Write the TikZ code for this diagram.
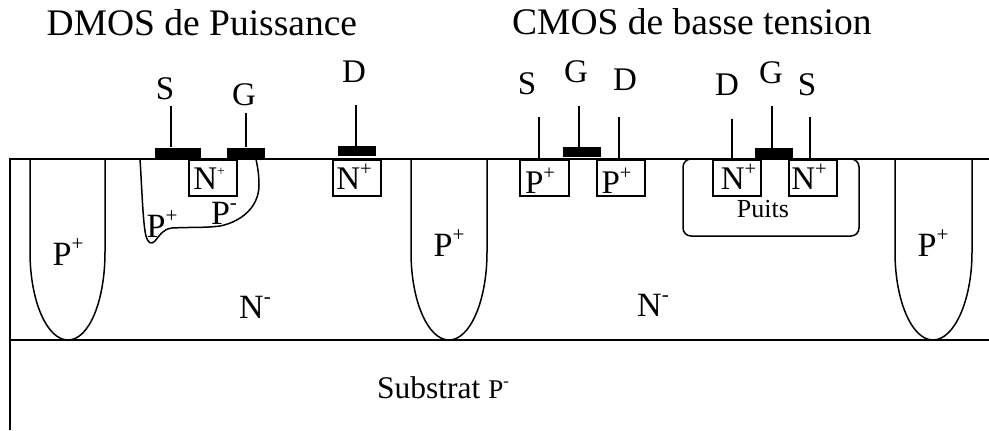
\documentclass[tikz,border=0pt]{standalone}
\usepackage{fontspec}
\setmainfont{Liberation Serif}
\newcommand{\fs}[1]{\fontsize{#1bp}{#1bp}\selectfont}
\newcommand{\sups}[2]{#1\raisebox{0.42em}{\fontsize{0.62em}{0.62em}\selectfont #2}}
\tikzset{
  x=1bp,y=-1bp,
  ln/.style={draw=black,line width=1.5bp},
  wire/.style={draw=black,line width=1.4bp},
  bar/.style={fill=black,draw=none,minimum width=#1 bp,minimum height=10bp,inner sep=0pt},
  dopebox/.style={ln,minimum width=48bp,minimum height=36bp,inner sep=0pt,anchor=north west},
  title/.style={font=\fs{37.5},anchor=base west,inner sep=0pt},
  term/.style={font=\fs{33},anchor=base,inner sep=0pt},
  lab/.style={font=\fs{34},anchor=base,inner sep=0pt},
  boxlab/.style={font=\fs{33},anchor=base,inner sep=0pt},
}
\begin{document}
\begin{tikzpicture}
\useasboundingbox (0,0) rectangle (989,430);
\coordinate (tl) at (10,159); \coordinate (tr) at (989,159);
\coordinate (ml) at (10,340); \coordinate (mr) at (989,340);
\coordinate (bl) at (10,430);
\draw[ln] (tr) -- (tl) -- (bl);
\draw[ln] (ml) -- (mr);
\draw[ln] (30,159) -- (30,252) .. controls (30,301) and (47,340) .. (68,340) .. controls (89,340) and (105,301) .. (105,252) -- (105,159);
\draw[ln] (411,159) -- (411,252) .. controls (411,301) and (428,340) .. (449,340) .. controls (470,340) and (487,301) .. (487,252) -- (487,159);
\draw[ln] (895,159) -- (895,252) .. controls (895,301) and (912,340) .. (933,340) .. controls (954,340) and (972,301) .. (972,252) -- (972,159);
\draw[ln] (140,159) .. controls (142,190) and (143,225) .. (146,236) .. controls (148,243) and (151,245) .. (155,241) .. controls (160,235) and (163,229) .. (172,228) .. controls (190,227) and (205,228) .. (220,226) .. controls (240,222) and (259,208) .. (259,185) .. controls (259,172) and (257,165) .. (256,159);
\draw[ln,rounded corners=8bp] (683,159) rectangle (859,236);
\node[dopebox] (nd1) at (188,159) {};
\node[dopebox] (nd2) at (332,159) {};
\node[dopebox,minimum width=49bp] (pc1) at (519,159) {};
\node[dopebox] (pc2) at (596,159) {};
\node[dopebox] (nc1) at (712,159) {};
\node[dopebox] (nc2) at (788,159) {};
\node[boxlab] (ln1) at (209,189) {\sups{N}{\fs{13}+}};
\node[boxlab] (ln2) at (354,189) {\sups{N}{+}};
\node[boxlab] (lp1) at (540,193) {\sups{P}{+}};
\node[boxlab] (lp2) at (616.5,193) {\sups{P}{+}};
\node[boxlab] (ln3) at (738.5,189) {\sups{N}{+}};
\node[boxlab] (ln4) at (809,189) {\sups{N}{+}};
\node[bar=46] (b1) at (178,152.5) {};
\node[bar=38] (b2) at (246,152.5) {};
\node[bar=38] (b3) at (357,151) {};
\node[bar=38] (b4) at (582,152) {};
\node[bar=38] (b5) at (774,153) {};
\coordinate (w1) at (171,106); \draw[wire] (w1) -- (b1.north -| w1);
\coordinate (w2) at (246,113); \draw[wire] (w2) -- (b2.north -| w2);
\coordinate (w3) at (356,105); \draw[wire] (w3) -- (b3.north -| w3);
\coordinate (w4) at (539,117); \draw[wire] (w4) -- (pc1.north -| w4);
\coordinate (w5) at (579,106); \draw[wire] (w5) -- (b4.north -| w5);
\coordinate (w6) at (619,117); \draw[wire] (w6) -- (pc2.north -| w6);
\coordinate (w7) at (732,119); \draw[wire] (w7) -- (nc1.north -| w7);
\coordinate (w8) at (772,106); \draw[wire] (w8) -- (b5.north -| w8);
\coordinate (w9) at (810,117); \draw[wire] (w9) -- (nc2.north -| w9);
\node[title] (t1) at (46.5,35) {DMOS de Puissance};
\node[title] (t2) at (512,34) {CMOS de basse tension};
\node[term] (s1) at (165,99) {S};
\node[term] (g1) at (244,105) {G};
\node[term] (d1) at (354,82) {D};
\node[term] (s2) at (527,94) {S};
\node[term] (g2) at (576,82) {G};
\node[term] (d2) at (625,90) {D};
\node[term] (d3) at (727,95) {D};
\node[term] (g3) at (771,83) {G};
\node[term] (s3) at (807,95) {S};
\node[lab] (l1) at (68,265) {\sups{P}{+}};
\node[lab] (l2) at (449,256) {\sups{P}{+}};
\node[lab] (l3) at (933,256) {\sups{P}{+}};
\node[lab] (l4) at (162,237) {\sups{P}{+}};
\node[lab] (l5) at (224,224) {\sups{P}{-}};
\node[lab] (l6) at (255,318) {\sups{N}{-}};
\node[lab] (l7) at (653,316) {\sups{N}{-}};
\node[font=\fs{26},anchor=base,inner sep=0pt] (l8) at (763,217) {Puits};
\node[anchor=base west,inner sep=0pt] (l9) at (377,398) {\fs{31.5}Substrat \fs{27}\sups{P}{-}};
\end{tikzpicture}
\end{document}
